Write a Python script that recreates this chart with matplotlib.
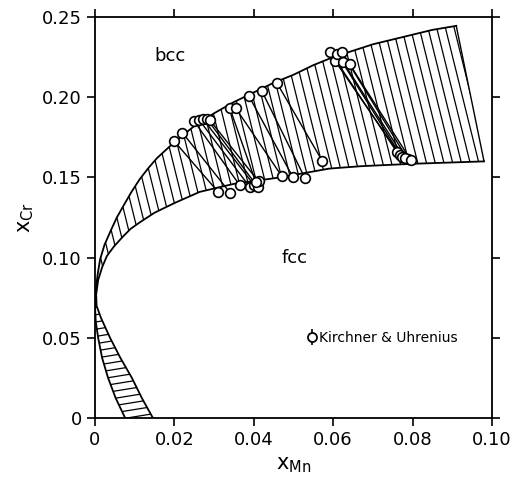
import matplotlib.pyplot as plt
import numpy as np
from matplotlib.collections import LineCollection
from matplotlib.legend_handler import HandlerTuple
from matplotlib.lines import Line2D
from matplotlib.patches import Polygon
from matplotlib.ticker import FuncFormatter, MultipleLocator

plt.rcParams["font.family"] = ["DejaVu Sans"]
plt.rcParams["mathtext.default"] = "regular"

# bcc / (bcc+fcc) boundary: (x_Mn, x_Cr)
bcc_x = [0.0076, 0.0052, 0.0033, 0.0018, 0.0008, 0.0002, 0.0000, 0.0002, 0.0007,
         0.0013, 0.0024, 0.0040, 0.0055, 0.0071, 0.0092, 0.0113, 0.0135, 0.0156,
         0.0200, 0.0250, 0.0300, 0.0350, 0.0400, 0.0450, 0.0500, 0.0550, 0.0600,
         0.0650, 0.0700, 0.0750, 0.0800, 0.0850, 0.0910]
bcc_y = [0.000, 0.0125, 0.025, 0.0375, 0.050, 0.060, 0.070, 0.080, 0.090,
         0.099, 0.108, 0.117, 0.125, 0.132, 0.141, 0.149, 0.156, 0.162,
         0.172, 0.182, 0.190, 0.197, 0.203, 0.209, 0.214, 0.220, 0.225,
         0.229, 0.233, 0.236, 0.239, 0.242, 0.2445]

# fcc / (bcc+fcc) boundary
fcc_x = [0.0146, 0.0118, 0.0093, 0.0064, 0.0038, 0.0015, 0.0004, 0.0003, 0.0008,
         0.0018, 0.0030, 0.0048, 0.0070, 0.0090, 0.0113, 0.0150, 0.0200, 0.0264,
         0.0350, 0.0466, 0.0590, 0.0670, 0.0800, 0.0980]
fcc_y = [0.000, 0.0125, 0.025, 0.0375, 0.050, 0.0625, 0.070, 0.077, 0.086,
         0.094, 0.101, 0.107, 0.113, 0.118, 0.122, 0.128, 0.134, 0.141,
         0.146, 0.150, 0.1555, 0.157, 0.1585, 0.160]

# measured tie-lines (Kirchner & Uhrenius): bcc end -> fcc end
tie_bcc_x = [0.0200, 0.0220, 0.0250, 0.0262, 0.0272, 0.0282, 0.0290, 0.0340, 0.0355,
             0.0388, 0.0420, 0.0458, 0.0592, 0.0605, 0.0610, 0.0622, 0.0625, 0.0642]
tie_bcc_y = [0.1725, 0.1780, 0.1850, 0.1860, 0.1865, 0.1865, 0.1855, 0.1930, 0.1930,
             0.2006, 0.2040, 0.2090, 0.2285, 0.2225, 0.2270, 0.2280, 0.2220, 0.2205]
tie_fcc_x = [0.0310, 0.0340, 0.0365, 0.0390, 0.0400, 0.0410, 0.0412, 0.0405, 0.0470,
             0.0499, 0.0529, 0.0572, 0.0760, 0.0768, 0.0773, 0.0788, 0.0780, 0.0795]
tie_fcc_y = [0.1410, 0.1405, 0.1450, 0.1440, 0.1455, 0.1440, 0.1475, 0.1470, 0.1510,
             0.1500, 0.1495, 0.1605, 0.1660, 0.1640, 0.1625, 0.1612, 0.1620, 0.1610]

TIP_Y = 0.070


def tick_fmt(v, _):
    return "0" if abs(v) < 1e-9 else f"{v:.2f}"


def hatch(ax, px, py, starts, step):
    patch = Polygon(np.column_stack([px, py]), closed=True,
                    facecolor="none", edgecolor="none")
    ax.add_patch(patch)
    segs = [[(x0, y0), (x0 + step[0], y0 + step[1])] for x0, y0 in starts]
    lc = LineCollection(segs, colors="black", linewidths=0.9)
    lc.set_clip_path(patch)
    ax.add_collection(lc, autolim=False)


def main() -> None:
    fig = plt.figure(figsize=(5.12, 4.88), dpi=100)
    ax = fig.add_axes([0.1855, 0.1434, 0.7754, 0.8217])

    bx, by = np.array(bcc_x), np.array(bcc_y)
    fx, fy = np.array(fcc_x), np.array(fcc_y)

    # two-phase band above the loop tip: slanted tie-line hatching
    up_b, up_f = by >= TIP_Y, fy >= TIP_Y
    poly_x = np.concatenate([bx[up_b], fx[up_f][::-1]])
    poly_y = np.concatenate([by[up_b], fy[up_f][::-1]])
    starts = [(x0, 0.26) for x0 in np.arange(-0.03, 0.11, 0.0022)]
    hatch(ax, poly_x, poly_y, starts, (0.026, -0.26))

    # two-phase lobe below the tip: nearly horizontal hatching
    lo_b, lo_f = by <= TIP_Y, fy <= TIP_Y
    poly_x = np.concatenate([bx[lo_b], fx[lo_f][::-1]])
    poly_y = np.concatenate([by[lo_b], fy[lo_f][::-1]])
    starts = [(-0.002, y0) for y0 in np.arange(-0.004, 0.075, 0.0045)]
    hatch(ax, poly_x, poly_y, starts, (0.02, 0.008))

    ax.plot(bx, by, color="black", lw=1.3)
    ax.plot(fx, fy, color="black", lw=1.3)
    ax.plot([bx[-1], fx[-1]], [by[-1], fy[-1]], color="black", lw=1.0)

    for xb, yb, xf, yf in zip(tie_bcc_x, tie_bcc_y, tie_fcc_x, tie_fcc_y):
        ax.plot([xb, xf], [yb, yf], color="black", lw=1.0, zorder=3)
    ax.plot(tie_bcc_x + tie_fcc_x, tie_bcc_y + tie_fcc_y, "o", ms=7,
            mfc="white", mec="black", mew=1.2, zorder=4)

    ax.text(0.0189, 0.2256, "bcc", fontsize=13, ha="center", va="center")
    ax.text(0.0504, 0.100, "fcc", fontsize=13, ha="center", va="center")

    stem = Line2D([], [], ls="none", marker="|", ms=11, mec="black", mew=1.2)
    circ = Line2D([], [], ls="none", marker="o", ms=6.5, mfc="white", mec="black", mew=1.3)
    ax.legend([(stem, circ)], ["Kirchner & Uhrenius"],
              handler_map={tuple: HandlerTuple(ndivide=1)},
              loc="center left", bbox_to_anchor=(0.535, 0.2), frameon=False,
              handlelength=0.6, handletextpad=0.25, fontsize=10,
              borderpad=0, borderaxespad=0)

    ax.set_xlim(0, 0.10)
    ax.set_ylim(0, 0.25)
    ax.xaxis.set_major_locator(MultipleLocator(0.02))
    ax.yaxis.set_major_locator(MultipleLocator(0.05))
    ax.xaxis.set_major_formatter(FuncFormatter(tick_fmt))
    ax.yaxis.set_major_formatter(FuncFormatter(tick_fmt))
    ax.tick_params(direction="out", length=6, width=1.2, labelsize=13,
                   top=True, right=True)
    for sp in ax.spines.values():
        sp.set_linewidth(1.3)

    ax.set_xlabel("x$_{Mn}$", fontsize=15, labelpad=4)
    ax.set_ylabel("x$_{Cr}$", fontsize=15, labelpad=4)

    fig.savefig("out.png", dpi=100)


if __name__ == "__main__":
    main()
